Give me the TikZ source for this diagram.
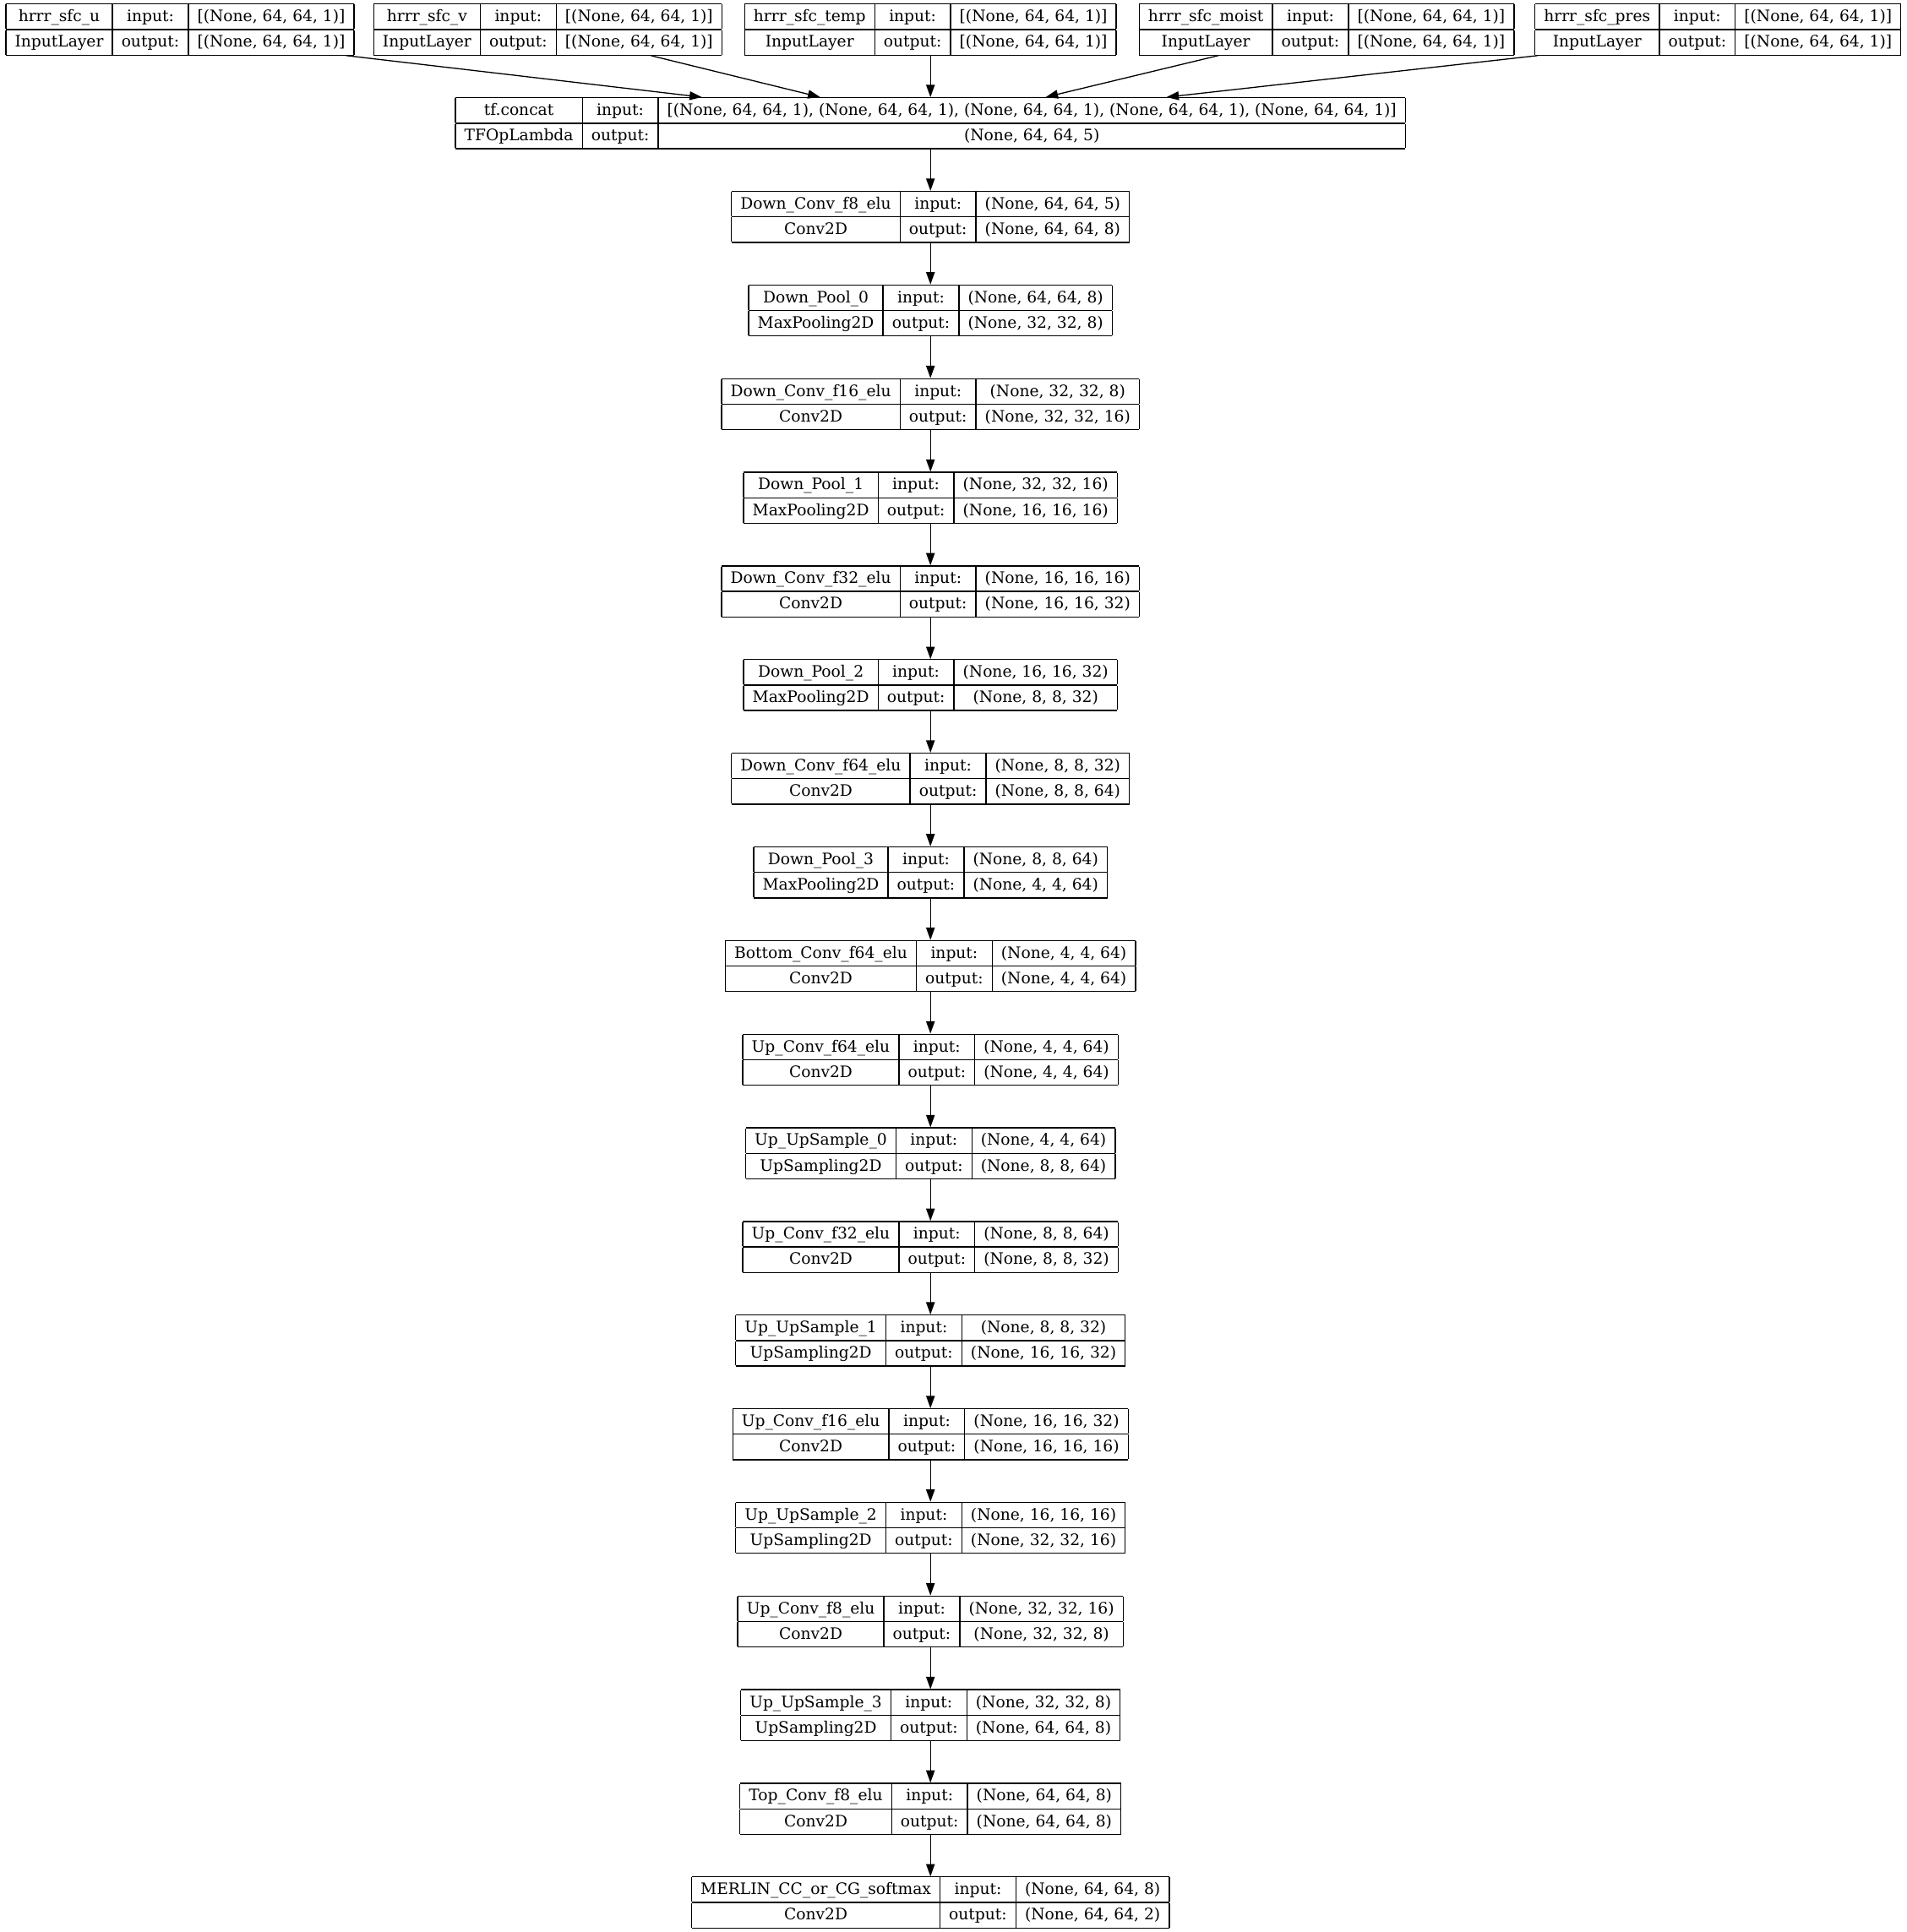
\documentclass[tikz,border=0pt]{standalone}
\usepackage{fontspec}
\setmainfont{DejaVu Serif}
\usetikzlibrary{arrows.meta,calc}
\setlength{\arrayrulewidth}{0.9pt}
\setlength{\tabcolsep}{7.3pt}
\newcommand{\lyr}[4]{\begin{tabular}{|c|c|c|}\hline
#1 & input: & #3\\\hline
#2 & output: & #4\\\hline
\end{tabular}}
\tikzset{layer/.style={inner sep=0pt,outer sep=0pt,font=\fontsize{12.8}{19.8}\selectfont},
    flow/.style={draw,line width=0.9pt,-{Triangle[length=10pt,width=7pt]}}}

\begin{document}
\begin{tikzpicture}[x=1pt,y=1pt]
\fill[white] (0,0) rectangle (1547,-1568);
\useasboundingbox (0,0) rectangle (1547,-1568);
% inputs
\node[layer] (inu) at (146,-24) {\lyr{hrrr\_sfc\_u}{InputLayer}{[(None, 64, 64, 1)]}{[(None, 64, 64, 1)]}};
\node[layer] (inv) at (444.5,-24) {\lyr{hrrr\_sfc\_v}{InputLayer}{[(None, 64, 64, 1)]}{[(None, 64, 64, 1)]}};
\node[layer] (intemp) at (755,-24) {\lyr{hrrr\_sfc\_temp}{InputLayer}{[(None, 64, 64, 1)]}{[(None, 64, 64, 1)]}};
\node[layer] (inmoist) at (1076.5,-24) {\lyr{hrrr\_sfc\_moist}{InputLayer}{[(None, 64, 64, 1)]}{[(None, 64, 64, 1)]}};
\node[layer] (inpres) at (1394,-24) {\lyr{hrrr\_sfc\_pres}{InputLayer}{[(None, 64, 64, 1)]}{[(None, 64, 64, 1)]}};
\node[layer] (cat) at (755,-100) {\lyr{tf.concat}{TFOpLambda}{[(None, 64, 64, 1), (None, 64, 64, 1), (None, 64, 64, 1), (None, 64, 64, 1), (None, 64, 64, 1)]}{(None, 64, 64, 5)}};
% encoder
\node[layer] (conv0) at (755,-176) {\lyr{Down\_Conv\_f8\_elu}{Conv2D}{(None, 64, 64, 5)}{(None, 64, 64, 8)}};
\node[layer] (pool0) at (755,-252) {\lyr{Down\_Pool\_0}{MaxPooling2D}{(None, 64, 64, 8)}{(None, 32, 32, 8)}};
\node[layer] (conv1) at (755,-328) {\lyr{Down\_Conv\_f16\_elu}{Conv2D}{(None, 32, 32, 8)}{(None, 32, 32, 16)}};
\node[layer] (pool1) at (755,-404) {\lyr{Down\_Pool\_1}{MaxPooling2D}{(None, 32, 32, 16)}{(None, 16, 16, 16)}};
\node[layer] (conv2) at (755,-480) {\lyr{Down\_Conv\_f32\_elu}{Conv2D}{(None, 16, 16, 16)}{(None, 16, 16, 32)}};
\node[layer] (pool2) at (755,-556) {\lyr{Down\_Pool\_2}{MaxPooling2D}{(None, 16, 16, 32)}{(None, 8, 8, 32)}};
\node[layer] (conv3) at (755,-632) {\lyr{Down\_Conv\_f64\_elu}{Conv2D}{(None, 8, 8, 32)}{(None, 8, 8, 64)}};
\node[layer] (pool3) at (755,-708) {\lyr{Down\_Pool\_3}{MaxPooling2D}{(None, 8, 8, 64)}{(None, 4, 4, 64)}};
\node[layer] (bottom) at (755,-784) {\lyr{Bottom\_Conv\_f64\_elu}{Conv2D}{(None, 4, 4, 64)}{(None, 4, 4, 64)}};
% decoder
\node[layer] (upc0) at (755,-860) {\lyr{Up\_Conv\_f64\_elu}{Conv2D}{(None, 4, 4, 64)}{(None, 4, 4, 64)}};
\node[layer] (ups0) at (755,-936) {\lyr{Up\_UpSample\_0}{UpSampling2D}{(None, 4, 4, 64)}{(None, 8, 8, 64)}};
\node[layer] (upc1) at (755,-1012) {\lyr{Up\_Conv\_f32\_elu}{Conv2D}{(None, 8, 8, 64)}{(None, 8, 8, 32)}};
\node[layer] (ups1) at (755,-1088) {\lyr{Up\_UpSample\_1}{UpSampling2D}{(None, 8, 8, 32)}{(None, 16, 16, 32)}};
\node[layer] (upc2) at (755,-1164) {\lyr{Up\_Conv\_f16\_elu}{Conv2D}{(None, 16, 16, 32)}{(None, 16, 16, 16)}};
\node[layer] (ups2) at (755,-1240) {\lyr{Up\_UpSample\_2}{UpSampling2D}{(None, 16, 16, 16)}{(None, 32, 32, 16)}};
\node[layer] (upc3) at (755,-1316) {\lyr{Up\_Conv\_f8\_elu}{Conv2D}{(None, 32, 32, 16)}{(None, 32, 32, 8)}};
\node[layer] (ups3) at (755,-1392) {\lyr{Up\_UpSample\_3}{UpSampling2D}{(None, 32, 32, 8)}{(None, 64, 64, 8)}};
\node[layer] (top) at (755,-1468) {\lyr{Top\_Conv\_f8\_elu}{Conv2D}{(None, 64, 64, 8)}{(None, 64, 64, 8)}};
\node[layer] (out) at (755,-1544) {\lyr{MERLIN\_CC\_or\_CG\_softmax}{Conv2D}{(None, 64, 64, 8)}{(None, 64, 64, 2)}};

\draw[flow] ($(inu.south east)+(-6,0)$) -- ($(cat.north west)+(200,0)$);
\draw[flow] ($(inv.south west)+(225,0)$) -- ($(cat.north west)+(296,0)$);
\draw[flow] (intemp) -- (cat);
\draw[flow] ($(inmoist.south west)+(64,0)$) -- ($(cat.north west)+(479,0)$);
\draw[flow] ($(inpres.south west)+(2,0)$) -- ($(cat.north west)+(577,0)$);
\foreach \a/\b in {cat/conv0,conv0/pool0,pool0/conv1,conv1/pool1,pool1/conv2,conv2/pool2,
    pool2/conv3,conv3/pool3,pool3/bottom,bottom/upc0,upc0/ups0,ups0/upc1,upc1/ups1,
    ups1/upc2,upc2/ups2,ups2/upc3,upc3/ups3,ups3/top,top/out}
  \draw[flow] (\a) -- (\b);
\end{tikzpicture}
\end{document}
